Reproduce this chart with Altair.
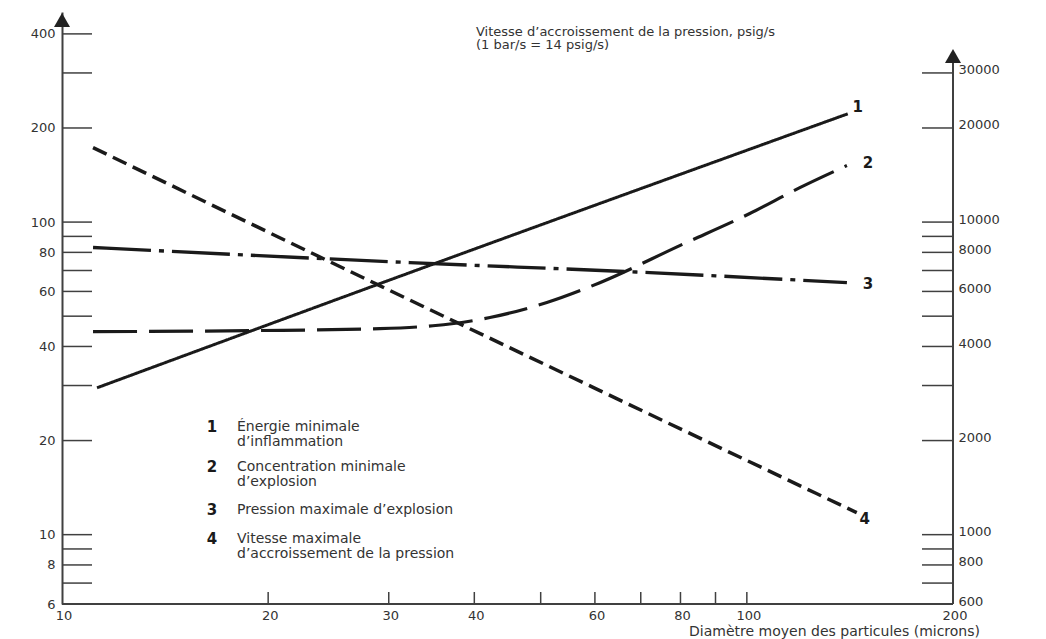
import altair as alt
import pandas as pd

# ---------------- data ----------------
# particle mean diameter (microns) and values on the left log axis
c1_x = [11.25, 32.2, 140.4]
c1_y = [29.5, 68.9, 222.0]
c2_x = [11.1, 18.8, 29.1, 34.8, 42.15, 51.05, 61.0, 79.8, 101.0, 119.5, 140.0]
c2_y = [44.6, 44.95, 45.6, 46.6, 49.5, 55.3, 64.0, 84.1, 106.5, 128.9, 151.7]
c3_x = [11.1, 32.2, 72.2, 140.0]
c3_y = [82.9, 74.2, 68.9, 64.0]
# curve 4 is read on the right axis (psig/s); right axis = left axis x 100
c4_x = [11.1, 29.1, 61.0, 144.7]
c4_psig = [17300, 6260, 2890, 1176]
RIGHT_FACTOR = 100

series_ids = ["1", "2", "3", "4"]
legend_lines = [
    ["Énergie minimale", "d’inflammation"],
    ["Concentration minimale", "d’explosion"],
    ["Pression maximale d’explosion"],
    ["Vitesse maximale", "d’accroissement de la pression"],
]
right_title = ["Vitesse d’accroissement de la pression, psig/s", "(1 bar/s = 14 psig/s)"]
x_title = "Diamètre moyen des particules (microns)"

left_tick_vals = [6, 7, 8, 9, 10, 20, 30, 40, 50, 60, 70, 80, 90, 100, 200, 300, 400]
left_label_vals = [6, 8, 10, 20, 40, 60, 80, 100, 200, 400]
right_tick_vals = [600, 700, 800, 900, 1000, 2000, 3000, 4000, 5000, 6000, 7000,
                   8000, 9000, 10000, 20000, 30000]
right_label_vals = [600, 800, 1000, 2000, 4000, 6000, 8000, 10000, 20000, 30000]
x_tick_vals = [20, 30, 40, 50, 60, 70, 80, 90, 100]
x_label_vals = [10, 20, 30, 40, 60, 80, 100, 200]

# ---------------- tables ----------------
rows = []
for sid, xs, ys in [("1", c1_x, c1_y), ("2", c2_x, c2_y), ("3", c3_x, c3_y),
                    ("4", c4_x, [v / RIGHT_FACTOR for v in c4_psig])]:
    for i, (a, b) in enumerate(zip(xs, ys)):
        rows.append({"s": sid, "x": a, "y": b, "o": i})
curves = pd.DataFrame(rows)
ends = curves.sort_values("o").groupby("s").tail(1).reset_index(drop=True)

left_ticks = pd.DataFrame({"v": left_tick_vals})
right_ticks = pd.DataFrame({"v": [v / RIGHT_FACTOR for v in right_tick_vals]})
x_ticks = pd.DataFrame({"v": x_tick_vals})
x_labels = pd.DataFrame({"v": x_label_vals, "t": [str(v) for v in x_label_vals]})
one = pd.DataFrame({"k": [0]})

FONT = "DejaVu Sans"
INK = "#1a1a1a"
AX = "#404040"
TXT = "#333333"

W, H = 891, 592
xs_ = alt.Scale(type="log", domain=[10, 200], nice=False)
ys_ = alt.Scale(type="log", domain=[6, 470], nice=False)

left_axis = alt.Axis(values=left_label_vals, ticks=False, tickSize=0, grid=False,
                     domainColor=AX, domainWidth=2, labelFont=FONT, labelFontSize=13,
                     labelColor=TXT, labelPadding=7, title=None, format="d")
right_axis = alt.Axis(orient="right", values=[v / RIGHT_FACTOR for v in right_label_vals],
                      ticks=False, tickSize=0, grid=False, domain=False,
                      labelFont=FONT, labelFontSize=13, labelColor=TXT, labelPadding=5,
                      labelOffset=-3,
                      labelExpr=f"format(round(datum.value*{RIGHT_FACTOR}),'d')", title=None)

lines = alt.Chart(curves).mark_line(interpolate="monotone", color=INK).encode(
    x=alt.X("x:Q", scale=xs_, axis=None),
    y=alt.Y("y:Q", scale=ys_, axis=left_axis),
    detail="s:N",
    order="o:Q",
    strokeDash=alt.StrokeDash("s:N", scale=alt.Scale(domain=series_ids,
                              range=[[1, 0], [44, 12], [58, 8, 5, 8], [15, 7]]), legend=None),
    strokeWidth=alt.StrokeWidth("s:N", scale=alt.Scale(domain=series_ids,
                                range=[3, 3.5, 3, 4]), legend=None),
)

lt = alt.Chart(left_ticks).mark_rule(color=AX, strokeWidth=1.5).encode(
    x=alt.value(0), x2=alt.value(30),
    y=alt.Y("v:Q", scale=ys_, axis=None))
rt = alt.Chart(right_ticks).mark_rule(color=AX, strokeWidth=1.5).encode(
    x=alt.value(W - 31), x2=alt.value(W),
    y=alt.Y("v:Q", scale=ys_, axis=right_axis))
bt = alt.Chart(x_ticks).mark_rule(color=AX, strokeWidth=1.5).encode(
    x=alt.X("v:Q", scale=xs_, axis=None),
    y=alt.value(H - 12), y2=alt.value(H))
x_domain = alt.Chart(one).mark_rule(color=AX, strokeWidth=2).encode(
    x=alt.value(0), x2=alt.value(W), y=alt.value(H))
x_lab = alt.Chart(x_labels).mark_text(font=FONT, fontSize=13, color=TXT,
                                      align="center", baseline="top", dx=2).encode(
    x=alt.X("v:Q", scale=xs_, axis=None), y=alt.value(H + 6), text="t:N")
x_tit = alt.Chart(one).mark_text(font=FONT, fontSize=14, color=TXT, align="right",
                                 baseline="alphabetic").encode(
    x=alt.value(918), y=alt.value(H + 32), text=alt.value(x_title))
right_line = alt.Chart(one).mark_rule(color=AX, strokeWidth=2).encode(
    x=alt.value(W), y=alt.value(48), y2=alt.value(H))
arrow_l = alt.Chart(one).mark_point(shape="triangle-up", filled=True,
                                    size=256, color="#222", opacity=1).encode(
    x=alt.value(0), y=alt.value(8))
arrow_r = alt.Chart(one).mark_point(shape="triangle-up", filled=True,
                                    size=256, color="#222", opacity=1).encode(
    x=alt.value(W), y=alt.value(44))

# curve numbers at the line ends
offsets = {"1": (10, -7), "2": (21, -3), "3": (21, 1), "4": (8, 6)}
end_labels = []
for sid in series_ids:
    dx, dy = offsets[sid]
    end_labels.append(
        alt.Chart(ends[ends["s"] == sid]).mark_text(
            font=FONT, fontSize=15, fontWeight="bold", color=INK, dx=dx, dy=dy,
            align="center", baseline="middle").encode(
            x=alt.X("x:Q", scale=xs_, axis=None),
            y=alt.Y("y:Q", scale=ys_, axis=None),
            text="s:N"))

# legend block (annotation)
leg_y = [415, 455, 498, 527]
legend_layers = []
for sid, lines_txt, yy in zip(series_ids, legend_lines, leg_y):
    legend_layers.append(
        alt.Chart(one).mark_text(
            font=FONT, fontSize=15, fontWeight="bold", color=INK, align="center",
            baseline="middle").encode(x=alt.value(150), y=alt.value(yy), text=alt.value(sid)))
    legend_layers.append(
        alt.Chart(one).mark_text(
            font=FONT, fontSize=14, color=TXT, align="left", baseline="middle",
            lineBreak="\n", lineHeight=15).encode(
            x=alt.value(175), y=alt.value(yy), text=alt.value("\n".join(lines_txt))))

title_r = alt.Chart(one).mark_text(
    font=FONT, fontSize=13, color=TXT, align="left", baseline="middle",
    lineBreak="\n", lineHeight=13).encode(
    x=alt.value(414), y=alt.value(20), text=alt.value("\n".join(right_title)))

chart = alt.layer(lines, rt, lt, bt, x_domain, x_lab, x_tit, right_line, arrow_l, arrow_r,
                  title_r, *end_labels, *legend_layers).resolve_axis(y="independent").properties(
    width=W, height=H,
    autosize=alt.AutoSizeParams(type="none"),
    padding={"left": 54, "top": 4, "right": 80, "bottom": 35},
    background="white",
).configure_view(stroke=None)

chart.save("out.html", embed_options={"renderer": "svg", "actions": False})
